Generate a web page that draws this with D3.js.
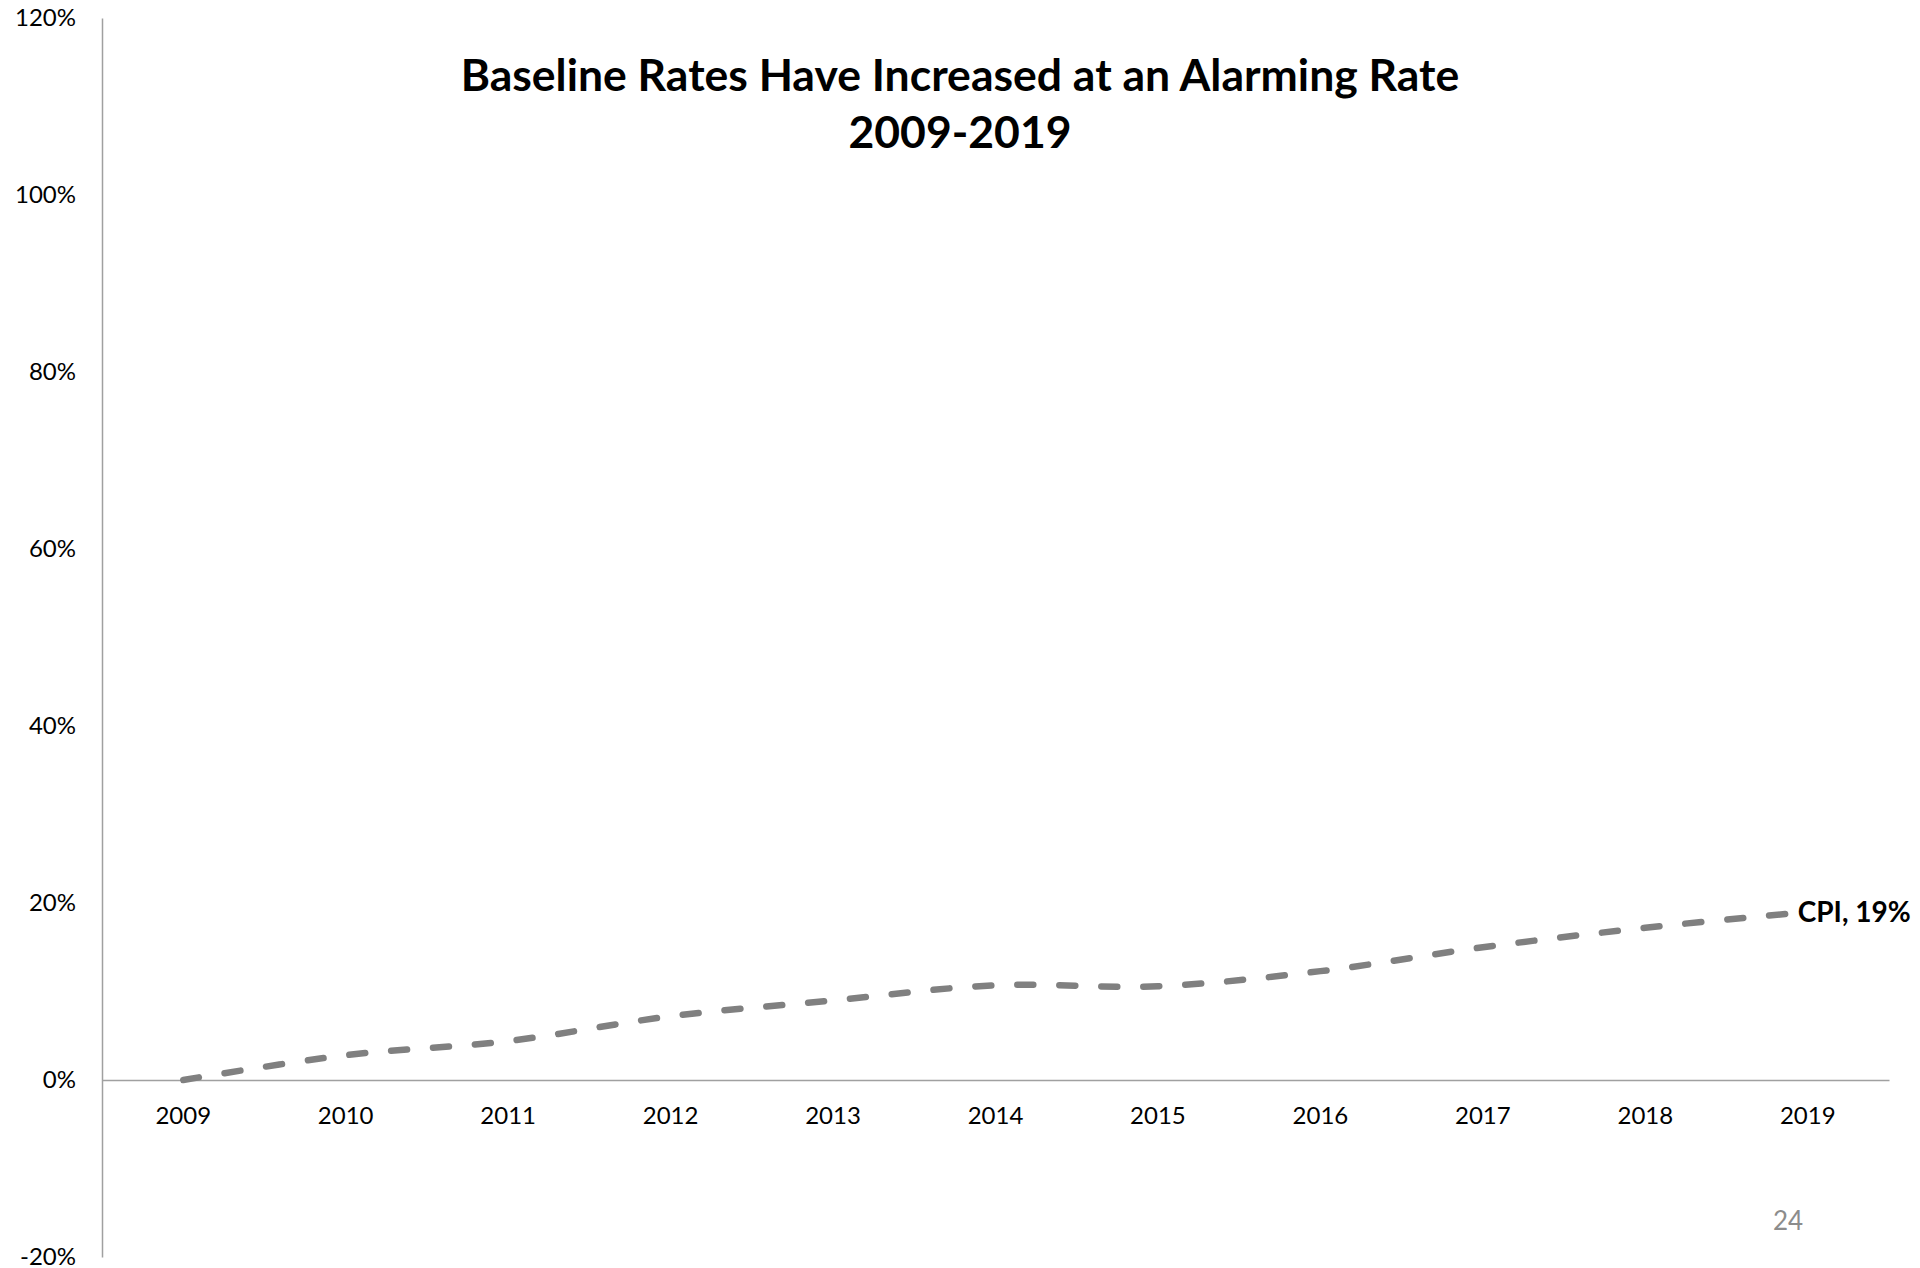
<!DOCTYPE html>
<html>
<head>
<meta charset="utf-8">
<script src="https://cdn.jsdelivr.net/npm/d3@7"></script>
<style>
  html, body { margin: 0; padding: 0; background: #fff; }
  svg { display: block; }
  text { font-family: Lato, "Open Sans", sans-serif; }
</style>
</head>
<body>
<svg id="chart" width="1920" height="1268"></svg>
<script>
// Cumulative CPI change since 2009 (percent)
const years = ["2009", "2010", "2011", "2012", "2013", "2014", "2015", "2016", "2017", "2018", "2019"];
const cpiValues = [0, 2.8, 4.4, 7.2, 9.0, 10.7, 10.6, 12.3, 15.0, 17.2, 19];
const seriesName = "CPI";
const yTicks = [-20, 0, 20, 40, 60, 80, 100, 120];
const titleLines = ["Baseline Rates Have Increased at an Alarming Rate", "2009-2019"];
const pageNumber = "24";

const W = 1920, H = 1268;
const margin = { top: 18, right: 31, bottom: 11, left: 102 };

const svg = d3.select("#chart");

const x = d3.scaleBand()
  .domain(years)
  .range([margin.left, W - margin.right])
  .padding(0);

const y = d3.scaleLinear()
  .domain([-20, 120])
  .range([H - margin.bottom, margin.top]);

const axisColor = "#a0a0a0";

// Vertical axis with percent labels
const yAxis = svg.append("g")
  .attr("transform", `translate(${margin.left},0)`)
  .call(d3.axisLeft(y).tickValues(yTicks).tickSize(0).tickPadding(26).tickFormat(d => d + "%"));
yAxis.select(".domain").attr("stroke", axisColor).attr("stroke-width", 1.5);
yAxis.selectAll("text").attr("font-size", 24).attr("fill", "#000")
  .style("font-family", "Lato, sans-serif");

// Horizontal axis at zero
const xAxis = svg.append("g")
  .attr("transform", `translate(0,${y(0)})`)
  .call(d3.axisBottom(x).tickSize(0).tickPadding(27));
xAxis.select(".domain").attr("stroke", axisColor).attr("stroke-width", 1.5);
xAxis.selectAll("text").attr("font-size", 24).attr("fill", "#000")
  .style("font-family", "Lato, sans-serif");

// Smoothed dashed CPI line
const pts = years.map((yr, i) => ({ yr, v: cpiValues[i] }));
const line = d3.line()
  .x(d => x(d.yr) + x.bandwidth() / 2)
  .y(d => y(d.v))
  .curve(d3.curveCatmullRom.alpha(0.5));

svg.append("path")
  .datum(pts)
  .attr("d", line)
  .attr("fill", "none")
  .attr("stroke", "#808080")
  .attr("stroke-width", 6.5)
  .attr("stroke-linecap", "round")
  .attr("stroke-dasharray", "16 26");

// End-of-line label
const last = pts[pts.length - 1];
svg.append("text")
  .attr("x", x(last.yr) + x.bandwidth() / 2 - 10)
  .attr("y", y(last.v))
  .attr("dy", "0.35em")
  .attr("font-size", 28)
  .attr("font-weight", "bold")
  .attr("fill", "#000")
  .text(`${seriesName}, ${Math.round(last.v)}%`);

// Title
const title = svg.append("text")
  .attr("x", 960)
  .attr("text-anchor", "middle")
  .attr("font-size", 44.5)
  .attr("font-weight", "bold")
  .attr("fill", "#000");
titleLines.forEach((t, i) => {
  title.append("tspan")
    .attr("x", 960)
    .attr("y", 91 + i * 57)
    .text(t);
});

// Slide number
svg.append("text")
  .attr("x", 1788)
  .attr("y", 1230)
  .attr("text-anchor", "middle")
  .attr("font-size", 26)
  .attr("fill", "#8c8c8c")
  .text(pageNumber);
</script>
</body>
</html>
